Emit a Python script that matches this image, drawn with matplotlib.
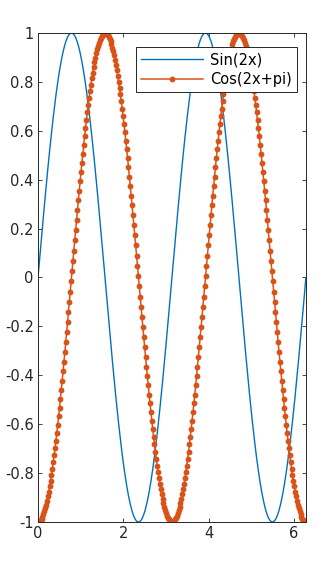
import numpy as np
import matplotlib
matplotlib.use("Agg")
import matplotlib.pyplot as plt

x = np.linspace(0, 2 * np.pi, 300)
y_sin = np.sin(2 * x)
y_cos = np.cos(2 * x + np.pi)
labels = ["Sin(2x)", "Cos(2x+pi)"]
xticks = [0, 2, 4, 6]
yticks = [-1, -0.8, -0.6, -0.4, -0.2, 0, 0.2, 0.4, 0.6, 0.8, 1]
ytick_labels = ["-1", "-0.8", "-0.6", "-0.4", "-0.2", "0", "0.2", "0.4", "0.6", "0.8", "1"]

plt.rcParams['font.family'] = ['DejaVu Sans']
fig = plt.figure(figsize=(3.22, 5.65), dpi=100)
ax = fig.add_axes([0.118, 0.0761, 0.832, 0.8655])
ax.plot(x, y_sin, color='#0072BD', lw=1.0, label=labels[0])
ax.plot(x, y_cos, color='#D95319', lw=1.1, marker='o', markersize=4.2,
        markeredgewidth=0, label=labels[1])
ax.set_xlim(0, 2 * np.pi)
ax.set_ylim(-1, 1)
ax.set_xticks(xticks)
ax.set_xticklabels([str(t) for t in xticks])
ax.set_yticks(yticks)
ax.set_yticklabels(ytick_labels)
ax.tick_params(direction='in', top=True, right=True, length=3, width=0.6,
               colors='#262626', labelsize=10.5, pad=3)
for s in ax.spines.values():
    s.set_color('#262626')
    s.set_linewidth(0.7)
    s.set_zorder(5)
leg = ax.legend(loc='upper right', bbox_to_anchor=(0.966, 0.971), fontsize=10.5,
                frameon=True, fancybox=False, edgecolor='#262626',
                handlelength=4.3, borderpad=0.35, labelspacing=0.3,
                handletextpad=0.45, borderaxespad=0, framealpha=1)
leg.get_frame().set_linewidth(0.7)
fig.savefig("out.png", dpi=100)
